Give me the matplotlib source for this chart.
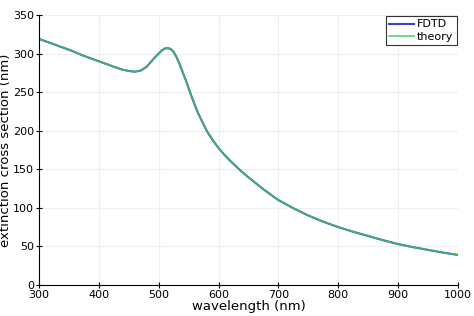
import matplotlib
matplotlib.use("Agg")
import matplotlib.pyplot as plt

# values
wavelength = [300, 325, 350, 375, 400, 425, 440, 450, 460, 470, 480, 490, 500,
              505, 510, 515, 520, 525, 530, 535, 540, 545, 550, 555, 560, 565,
              570, 575, 580, 590, 600, 610, 620, 635, 650, 675, 700, 725, 750,
              775, 800, 825, 850, 875, 900, 925, 950, 975, 1000]
fdtd = [319, 312, 305, 297, 290, 283, 279, 277.5, 276.5, 278, 283, 292, 300,
        304, 306.5, 307, 306, 302, 295, 286, 276, 266, 255, 244, 234, 224,
        216, 208, 200, 188, 177.5, 168.5, 160.5, 149.5, 139.5, 124, 110, 99.5, 90,
        82, 75, 69, 63.5, 58, 53, 49, 45.5, 42, 39]
theory = list(fdtd)

xticks = [300, 400, 500, 600, 700, 800, 900, 1000]
yticks = [0, 50, 100, 150, 200, 250, 300, 350]

fig = plt.figure(figsize=(4.74, 3.16), dpi=100)
ax = fig.add_axes([0.0823, 0.0981, 0.884, 0.8544])

ax.plot(wavelength, fdtd, color="#4040d0", lw=1.5, label="FDTD")
ax.plot(wavelength, theory, color="#3cc864", lw=1.2, alpha=0.85, label="theory")

ax.set_xlim(300, 1000)
ax.set_ylim(0, 350)
ax.set_xticks(xticks)
ax.set_yticks(yticks)
ax.grid(True, color="#efefef", lw=0.8)
ax.set_axisbelow(True)
for side in ("top", "right"):
    ax.spines[side].set_visible(False)
ax.tick_params(direction="inout", length=5, width=0.8, labelsize=8, pad=1)
ax.set_xlabel("wavelength (nm)", fontsize=9.5, labelpad=0)
ax.set_ylabel("extinction cross section (nm)", fontsize=9.5, labelpad=1)

leg = ax.legend(loc="upper right", fontsize=8, frameon=True, fancybox=False,
                borderaxespad=0.1, handlelength=2.2, handletextpad=0.3,
                borderpad=0.3, labelspacing=0.2)
leg.get_frame().set_edgecolor("black")
leg.get_frame().set_linewidth(0.8)

fig.savefig("out.png", dpi=100)
